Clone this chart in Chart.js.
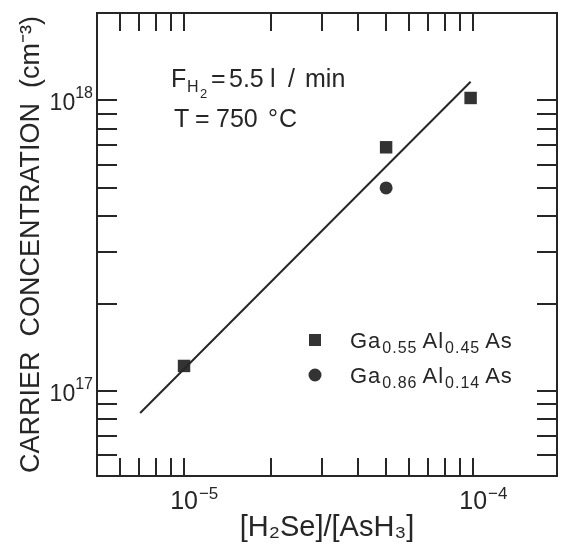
<!DOCTYPE html>
<html>
<head>
<meta charset="utf-8">
<script src="https://cdn.jsdelivr.net/npm/chart.js@4/dist/chart.umd.min.js"></script>
<style>
html,body{margin:0;padding:0;background:#fff}
#wrap{width:569px;height:545px}
</style>
</head>
<body>
<div id="wrap"><canvas id="chart" width="569" height="545"></canvas></div>
<script>
/* ---------------- DATA ---------------- */

const ga055X = [1.0e-5, 5.0e-5, 9.8e-5]
const ga055Y = [1.22e17, 6.9e17, 1.02e18]

const ga086X = [5.0e-5]
const ga086Y = [5.0e17]

const fitX = [7.05e-6, 9.8e-5]
const fitY = [8.4e16, 1.16e18]

const xTicks = [6e-6,7e-6,8e-6,9e-6,1e-5,2e-5,3e-5,4e-5,5e-5,6e-5,7e-5,8e-5,9e-5,1e-4]
const yTicks = [6e16,7e16,8e16,9e16,1e17,2e17,3e17,4e17,5e17,6e17,7e17,8e17,9e17,1e18]

const xLabelExps = [-5,-4]
const yLabelExps = [17,18]

const legendRows = [
["Ga","0.55","Al","0.45","As"],
["Ga","0.86","Al","0.14","As"]
]

const ink = "#262626"
const FONT = "'Liberation Sans', Arial, sans-serif"

function pts(xs,ys){
return xs.map((x,i)=>({x:x,y:ys[i]}))
}

/* ---------------- HELPERS ---------------- */

function drawPieces(ctx,pieces){
// pieces: [text, x, baseline, size]
pieces.forEach(p=>{
ctx.font = p[3] + "px " + FONT
ctx.fillText(p[0],p[1],p[2])
})
}

// formula like Ga_0.55 Al_0.45 As, drawn left to right
function drawFormula(ctx,parts,x,y){
ctx.letterSpacing = "1px"
parts.forEach((t,i)=>{
const sub = i % 2 == 1
ctx.font = (sub ? 16 : 22) + "px " + FONT
ctx.fillText(t,x,sub ? y+5 : y)
x += ctx.measureText(t).width + (sub ? 5 : 1)
})
ctx.letterSpacing = "0px"
}

/* ---------------- DECORATION PLUGIN ---------------- */

const decor = {
id:"decor",
afterDraw(chart){

const ctx = chart.ctx
const a = chart.chartArea
const xs = chart.scales.x
const ys = chart.scales.y

ctx.save()
ctx.strokeStyle = ink
ctx.fillStyle = ink

// frame
ctx.lineWidth = 2
ctx.strokeRect(a.left,a.top,a.right-a.left,a.bottom-a.top)

// inward ticks on all four sides
ctx.beginPath()
xs.ticks.forEach(t=>{
const px = Math.round(xs.getPixelForValue(t.value))
ctx.moveTo(px,a.bottom); ctx.lineTo(px,a.bottom-18)
ctx.moveTo(px,a.top); ctx.lineTo(px,a.top+18)
})
ys.ticks.forEach(t=>{
const py = Math.round(ys.getPixelForValue(t.value))
ctx.moveTo(a.left,py); ctx.lineTo(a.left+20,py)
ctx.moveTo(a.right,py); ctx.lineTo(a.right-20,py)
})
ctx.stroke()

// x tick labels 10^n
ctx.textBaseline = "alphabetic"
xLabelExps.forEach(e=>{
const px = xs.getPixelForValue(Math.pow(10,e))
ctx.font = "25px " + FONT
const w = ctx.measureText("10").width
ctx.textAlign = "center"
ctx.fillText("10",px,509)
ctx.textAlign = "left"
ctx.font = "17px " + FONT
ctx.fillText("\u2212" + Math.abs(e),px+w/2+1,499)
})

// y tick labels 10^n
yLabelExps.forEach(e=>{
const py = ys.getPixelForValue(Math.pow(10,e))
ctx.textAlign = "right"
ctx.font = "16px " + FONT
const sw = ctx.measureText(String(e)).width
ctx.fillText(String(e),93,py-2)
ctx.font = "23px " + FONT
ctx.fillText("10",93-sw,py+10)
})

// conditions text
ctx.textAlign = "left"
drawPieces(ctx,[
["F",171,87,25],
["H",187,92,16],
["2",200,98,13],
["=",211,87,25],
["5.5",229,87,25],
["l",270,87,25],
["/",288,87,25],
["min",305,87,25],
["T",174,127,25],
["=",195,127,25],
["750",216,127,25],
["\u00b0",268,127,25],
["C",279,127,25]
])

// legend
ctx.fillStyle = "#333"
ctx.fillRect(309,334,12,12)
ctx.beginPath()
ctx.arc(315,375,6.5,0,Math.PI*2)
ctx.fill()

ctx.fillStyle = ink
drawFormula(ctx,legendRows[0],350,348)
drawFormula(ctx,legendRows[1],350,383)

ctx.restore()
}
}

/* ---------------- CHART ---------------- */

const ctx = document.getElementById("chart").getContext("2d")

new Chart(ctx,{
type:"scatter",
data:{
datasets:[
{
label:"fit",
data:pts(fitX,fitY),
showLine:true,
borderColor:ink,
borderWidth:2,
pointRadius:0,
fill:false
},
{
label:"Ga0.55Al0.45As",
data:pts(ga055X,ga055Y),
pointStyle:"rect",
pointRadius:8.8,
backgroundColor:"#333",
borderColor:"#333",
borderWidth:0
},
{
label:"Ga0.86Al0.14As",
data:pts(ga086X,ga086Y),
pointStyle:"circle",
pointRadius:6.5,
backgroundColor:"#333",
borderColor:"#333",
borderWidth:0
}
]
},
options:{
responsive:false,
animation:false,
devicePixelRatio:1,
layout:{padding:{top:13,right:12,left:0,bottom:0}},
plugins:{
legend:{display:false},
tooltip:{enabled:false}
},
scales:{
x:{
type:"logarithmic",
min:5e-6,
max:1.95e-4,
afterBuildTicks:s=>{ s.ticks = xTicks.map(v=>({value:v})) },
afterFit:s=>{ s.height = 69 },
ticks:{display:false},
grid:{display:false},
border:{display:false},
title:{
display:true,
text:"[H\u2082Se]/[AsH\u2083]",
color:ink,
font:{family:FONT,size:29},
padding:{top:0,bottom:0}
}
},
y:{
type:"logarithmic",
min:5.1e16,
max:2e18,
afterBuildTicks:s=>{ s.ticks = yTicks.map(v=>({value:v})) },
afterFit:s=>{ s.width = 97 },
ticks:{display:false},
grid:{display:false},
border:{display:false},
title:{
display:true,
text:"CARRIER  CONCENTRATION  (cm\u207b\u00b3)",
color:ink,
font:{family:FONT,size:27},
padding:{top:15,bottom:0}
}
}
}
},
plugins:[decor]
})
</script>
</body>
</html>
